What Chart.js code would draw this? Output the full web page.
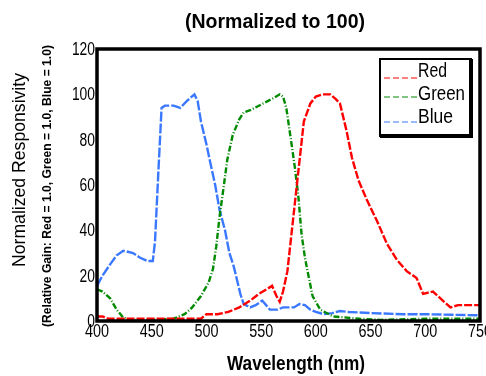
<!DOCTYPE html>
<html>
<head>
<meta charset="utf-8">
<script src="https://cdn.jsdelivr.net/npm/chart.js@4.4.1/dist/chart.umd.min.js"></script>
<style>
  html, body { margin: 0; padding: 0; background: #fff; }
  #wrap { width: 486px; height: 376px; }
</style>
</head>
<body>
<div id="wrap"><canvas id="respChart" width="486" height="376"></canvas></div>
<script>
// ==========================================================
// 1. DATA (wavelength in nm, responsivity normalized to 100)
// ==========================================================
const redNm  = [400, 405, 410, 420, 440, 460, 480, 495, 500, 510, 520, 530, 540, 548, 555, 560, 564, 567, 570, 574, 579, 584, 589, 595, 600, 606, 613, 618, 622, 628, 633, 639, 647, 656, 665, 674, 683, 692, 698, 707, 716, 723, 730, 750];
const redVal = [2, 2, 1, 1, 1, 1, 1, 1, 3, 3, 4, 6, 9, 12, 14, 15.5, 11, 8.5, 13, 22, 44, 66, 88, 96, 99, 100, 100, 98, 96, 84, 72, 62, 53, 44, 34, 27, 22, 19, 12, 13, 9, 6, 7, 7];

const greenNm  = [400, 405, 412, 418, 424, 430, 450, 470, 480, 487, 495, 502, 506, 509, 512, 516, 519, 524, 530, 534, 540, 552, 560, 567, 570, 573, 576, 579, 581, 584, 587, 590, 592, 597, 604, 616, 640, 660, 700, 750];
const greenVal = [14, 13, 10, 5, 1.5, 0.5, 0.5, 1, 3, 6, 11, 17, 23, 33, 46, 60, 71, 82, 89, 92, 93, 96, 98, 100, 99, 94, 84, 74, 67, 55, 38, 28, 23, 11, 5, 2, 1, 0.5, 1, 1];

const blueNm  = [400, 405, 412, 418, 424, 433, 439, 446, 451, 453, 456, 459, 462, 470, 476, 482, 489, 492, 495, 500, 503, 508, 512, 517, 521, 525, 528, 531, 534, 540, 545, 551, 558, 565, 570, 580, 585, 590, 595, 600, 607, 615, 622, 630, 650, 680, 700, 750];
const blueVal = [15.5, 20, 25, 29, 31, 30, 28, 26.5, 26.5, 35, 65, 94, 95, 95, 94, 97, 100, 97, 88, 78, 71, 60, 49, 40, 30, 24, 18, 12, 7.5, 6, 7, 9, 5, 5, 6, 6, 7.5, 7, 5, 4, 3, 3.5, 4.4, 4, 3.5, 3, 3, 2.5];

const seriesNames = ['Red', 'Green', 'Blue'];
const seriesColors = ['#ff0000', '#008a00', '#3a78ff'];
const seriesDashes = [[8, 2], [6, 2, 1, 2], [10, 2]];

const xTicks = [400, 450, 500, 550, 600, 650, 700, 750];
const yTicks = [0, 20, 40, 60, 80, 100, 120];

const FONT = '"Liberation Sans", Arial, sans-serif';

// helper: zip x/y arrays into points for a linear x scale
function toPoints(xs, ys) {
    return xs.map((x, i) => ({ x: x, y: ys[i] }));
}

// draw text with a horizontal squeeze factor (condensed look), optionally rotated
function drawSqueezed(ctx, text, x, y, sx, font, align, rotate) {
    ctx.save();
    ctx.font = font;
    ctx.translate(x, y);
    if (rotate) ctx.rotate(-Math.PI / 2);
    ctx.scale(sx, 1);
    ctx.textAlign = align;
    ctx.textBaseline = 'middle';
    ctx.fillStyle = '#000';
    ctx.fillText(text, 0, 0);
    ctx.restore();
}

// same, but squeezed to a fixed total width, centred on (cx, cy)
function drawFitted(ctx, text, cx, cy, width, font, rotate) {
    ctx.save();
    ctx.font = font;
    const w = ctx.measureText(text).width;
    ctx.restore();
    drawSqueezed(ctx, text, cx, cy, width / w, font, 'center', rotate);
}

// ==========================================================
// 2. PLUGINS: frame, tick labels, titles, legend box
// ==========================================================
const decorPlugin = {
    id: 'decor',
    afterDatasetsDraw(chart) {
        const ctx = chart.ctx;
        const a = chart.chartArea;

        // plot frame
        ctx.save();
        ctx.strokeStyle = '#000';
        ctx.lineWidth = 3.5;
        ctx.strokeRect(a.left, a.top, a.right - a.left, a.bottom - a.top);
        ctx.restore();

        // tick labels, placed with the chart's own scales
        const tickFont = '18px ' + FONT;
        chart.scales.y.ticks.forEach(t => {
            drawSqueezed(ctx, String(t.value), a.left - 2, chart.scales.y.getPixelForValue(t.value) + 1, 0.77, tickFont, 'right', false);
        });
        chart.scales.x.ticks.forEach(t => {
            drawSqueezed(ctx, String(t.value), chart.scales.x.getPixelForValue(t.value), a.bottom + 11, 0.8, tickFont, 'center', false);
        });

        // legend box (top right)
        ctx.save();
        ctx.fillStyle = '#fff';
        ctx.fillRect(380, 59, 91, 77);
        ctx.strokeStyle = '#000';
        ctx.lineWidth = 2;
        ctx.strokeRect(380, 59, 91, 77);
        ctx.fillStyle = '#000';
        ctx.fillRect(469, 59, 4, 79);
        ctx.fillRect(380, 134, 93, 4);
        const rows = [78, 97, 122];
        const textY = [71, 94, 117];
        const textW = [29, 47, 35];
        seriesNames.forEach((name, i) => {
            ctx.beginPath();
            ctx.setLineDash([6, 3]);
            ctx.strokeStyle = seriesColors[i];
            ctx.lineWidth = 1.2;
            ctx.moveTo(384, rows[i]);
            ctx.lineTo(418, rows[i]);
            ctx.stroke();
            ctx.setLineDash([]);
            drawFitted(ctx, name, 418 + textW[i] / 2, textY[i], textW[i], '21px ' + FONT, false);
        });
        ctx.restore();
    },
    afterDraw(chart) {
        const ctx = chart.ctx;
        drawFitted(ctx, '(Normalized to 100)', 275, 22, 180, 'bold 20px ' + FONT, false);
        drawFitted(ctx, 'Wavelength (nm)', 296, 364, 138, 'bold 20px ' + FONT, false);
        drawFitted(ctx, 'Normalized Responsivity', 20, 170, 194, '19px ' + FONT, true);
        drawFitted(ctx, '(Relative Gain: Red = 1.0, Green = 1.0, Blue = 1.0)', 47, 186, 282, 'bold 13px ' + FONT, true);
    }
};

// ==========================================================
// 3. CHART
// ==========================================================
const datasets = [
    toPoints(redNm, redVal),
    toPoints(greenNm, greenVal),
    toPoints(blueNm, blueVal)
].map((pts, i) => ({
    label: seriesNames[i],
    data: pts,
    borderColor: seriesColors[i],
    backgroundColor: seriesColors[i],
    borderWidth: 2.4,
    borderDash: seriesDashes[i],
    pointRadius: 0,
    tension: 0,
    fill: false
}));

new Chart(document.getElementById('respChart').getContext('2d'), {
    type: 'line',
    data: { datasets: datasets },
    options: {
        responsive: false,
        animation: false,
        layout: { padding: { left: 0, right: 6, top: 49, bottom: 0 } },
        plugins: {
            legend: { display: false },
            tooltip: { enabled: false }
        },
        scales: {
            x: {
                type: 'linear',
                min: xTicks[0],
                max: xTicks[xTicks.length - 1],
                afterBuildTicks: (s) => { s.ticks = xTicks.map(v => ({ value: v })); },
                afterFit: (s) => { s.height = 55; s.paddingLeft = 0; s.paddingRight = 0; },
                grid: { display: false },
                border: { display: false },
                ticks: { display: false }
            },
            y: {
                min: yTicks[0],
                max: yTicks[yTicks.length - 1],
                afterBuildTicks: (s) => { s.ticks = yTicks.map(v => ({ value: v })); },
                afterFit: (s) => { s.width = 97; s.paddingTop = 0; s.paddingBottom = 0; },
                grid: { display: false },
                border: { display: false },
                ticks: { display: false }
            }
        }
    },
    plugins: [decorPlugin]
});
</script>
</body>
</html>
